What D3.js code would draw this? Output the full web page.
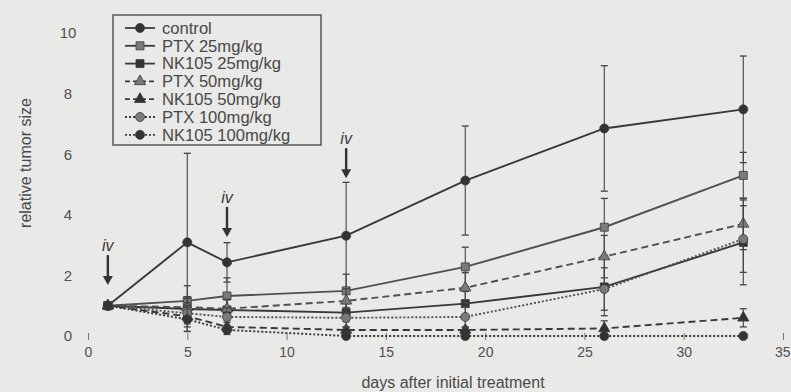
<!DOCTYPE html>
<html>
<head>
<meta charset="utf-8">
<script src="https://cdn.jsdelivr.net/npm/d3@7"></script>
<style>
  body { margin: 0; background: #e9e9e7; }
  svg { display: block; font-family: 'Liberation Sans', Arial, sans-serif; }
</style>
</head>
<body>
<div class="line-chart"></div>
<script>
// days when tumor size was measured
const days = [1, 5, 7, 13, 19, 26, 33];

const control = [1, 3.09, 2.43, 3.31, 5.13, 6.85, 7.48];
const control_err = [0, 2.94, 0.65, 1.76, 1.8, 2.07, 1.76];
const ptx25 = [1, 1.16, 1.32, 1.49, 2.28, 3.59, 5.3];
const ptx25_err = [0, 0.5, 0.6, 0.55, 0.65, 0.95, 0.76];
const nk25 = [1, 0.89, 0.86, 0.77, 1.07, 1.62, 3.09];
const nk25_err = [0, 0.35, 0.35, 0.3, 0.4, 0.95, 1.4];
const ptx50 = [1, 0.95, 0.9, 1.16, 1.59, 2.62, 3.7];
const ptx50_err = [0, 0.35, 0.3, 0.4, 0.5, 0.7, 0.85];
const nk50 = [1, 0.65, 0.3, 0.2, 0.2, 0.25, 0.6];
const nk50_err = [0, 0.35, 0.15, 0.1, 0.1, 0.25, 0.3];
const ptx100 = [1, 0.75, 0.63, 0.6, 0.63, 1.55, 3.2];
const ptx100_err = [0, 0.35, 0.3, 0.3, 0.35, 0.7, 1.1];
const nk100 = [1, 0.55, 0.2, 0, 0, 0, 0];
const nk100_err = [0, 0.4, 0.15, 0.05, 0.05, 0.05, 0.05];

const series_names = ['control', 'PTX 25mg/kg', 'NK105 25mg/kg', 'PTX 50mg/kg',
  'NK105 50mg/kg', 'PTX 100mg/kg', 'NK105 100mg/kg'];

const x_ticks = [0, 5, 10, 15, 20, 25, 30, 35];
const y_ticks = [0, 2, 4, 6, 8, 10];

// iv injections: day and the value the arrow points to
const iv_days = [1, 7, 13];
const iv_tips = [1.68, 3.27, 5.21];

class Chart {
  constructor() {
    this.w = 791;
    this.h = 392;
    this.ink = '#444';
    this.light = '#7a7a7a';
    this.dark = '#333';
    this.init();
  }

  init() {
    this.svg = d3.select('.line-chart').append('svg')
      .attr('width', this.w)
      .attr('height', this.h);

    this.x = d3.scaleLinear().domain([0, 35]).range([88, 783]);
    this.y = d3.scaleLinear().domain([0, 10]).range([336, 33]);

    this.series = [
      { name: series_names[0], values: control, err: control_err, dash: null, marker: 'circle', fill: this.dark },
      { name: series_names[1], values: ptx25, err: ptx25_err, dash: null, marker: 'square', fill: this.light },
      { name: series_names[2], values: nk25, err: nk25_err, dash: null, marker: 'square', fill: this.dark },
      { name: series_names[3], values: ptx50, err: ptx50_err, dash: '7,4', marker: 'triangle', fill: this.light },
      { name: series_names[4], values: nk50, err: nk50_err, dash: '7,4', marker: 'triangle', fill: this.dark },
      { name: series_names[5], values: ptx100, err: ptx100_err, dash: '2,2', marker: 'circle', fill: this.light },
      { name: series_names[6], values: nk100, err: nk100_err, dash: '2,2', marker: 'circle', fill: this.dark }
    ];
  }

  symbol(type) {
    const t = { circle: d3.symbolCircle, square: d3.symbolSquare, triangle: d3.symbolTriangle }[type];
    const size = { circle: 64, square: 64, triangle: 55 }[type];
    return d3.symbol().type(t).size(size)();
  }

  draw_axes() {
    const x_axis = d3.axisBottom(this.x).tickValues(x_ticks).tickSize(-7).tickPadding(7);
    const xg = this.svg.append('g')
      .attr('transform', `translate(0, ${this.y(0) + 4})`)
      .call(x_axis);
    xg.select('.domain').remove();
    xg.selectAll('line').attr('stroke', '#777');
    xg.selectAll('text').attr('fill', '#505050').attr('font-size', 14).attr('font-family', null);
    // last label sits on the right edge
    xg.selectAll('text').filter(d => d === 35).attr('text-anchor', 'end').attr('dx', '0.5em');

    const y_axis = d3.axisLeft(this.y).tickValues(y_ticks).tickSize(0).tickPadding(0);
    const yg = this.svg.append('g')
      .attr('transform', 'translate(68, 0)')
      .call(y_axis);
    yg.select('.domain').remove();
    yg.selectAll('text').attr('fill', '#505050').attr('font-size', 15)
      .attr('text-anchor', 'middle').attr('font-family', null);

    this.svg.append('text')
      .attr('x', 453).attr('y', 388)
      .attr('text-anchor', 'middle')
      .attr('font-size', 16).attr('fill', '#4a4a4a')
      .text('days after initial treatment');

    this.svg.append('text')
      .attr('transform', 'translate(31, 163) rotate(-90)')
      .attr('text-anchor', 'middle')
      .attr('font-size', 16).attr('fill', '#4a4a4a')
      .text('relative tumor size');
  }

  draw_series() {
    const line = d3.line()
      .x((d, i) => this.x(days[i]))
      .y(d => this.y(d));

    this.series.forEach(s => {
      const g = this.svg.append('g');

      // error bars
      days.forEach((day, i) => {
        if (!s.err[i]) return;
        const cx = this.x(day);
        const y1 = this.y(s.values[i] + s.err[i]);
        const y2 = this.y(Math.max(s.values[i] - s.err[i], -0.1));
        g.append('line').attr('x1', cx).attr('x2', cx).attr('y1', y1).attr('y2', y2)
          .attr('stroke', this.ink).attr('stroke-width', 1.1);
        [y1, y2].forEach(yy => {
          g.append('line').attr('x1', cx - 3.5).attr('x2', cx + 3.5).attr('y1', yy).attr('y2', yy)
            .attr('stroke', this.ink).attr('stroke-width', 1.3);
        });
      });

      g.append('path')
        .attr('d', line(s.values))
        .attr('fill', 'none')
        .attr('stroke', s.fill === this.light ? '#505050' : '#383838')
        .attr('stroke-width', 1.9)
        .attr('stroke-dasharray', s.dash);

      g.selectAll('.pt').data(s.values).enter()
        .append('path')
        .attr('d', this.symbol(s.marker))
        .attr('transform', (d, i) => `translate(${this.x(days[i])}, ${this.y(d)})`)
        .attr('fill', s.fill)
        .attr('stroke', '#3a3a3a')
        .attr('stroke-width', 0.8);
    });
  }

  draw_iv() {
    iv_days.forEach((day, i) => {
      const cx = this.x(day);
      const tip = this.y(iv_tips[i]);
      this.svg.append('line')
        .attr('x1', cx).attr('x2', cx)
        .attr('y1', tip - 30).attr('y2', tip - 6)
        .attr('stroke', '#333').attr('stroke-width', 2.4);
      this.svg.append('path')
        .attr('d', `M${cx - 5},${tip - 9}L${cx + 5},${tip - 9}L${cx},${tip}Z`)
        .attr('fill', '#333');
      this.svg.append('text')
        .attr('x', cx).attr('y', tip - 34)
        .attr('text-anchor', 'middle')
        .attr('font-size', 16).attr('font-style', 'italic')
        .attr('fill', '#3a3a3a')
        .text('iv');
    });
  }

  draw_legend() {
    const lg = this.svg.append('g');
    lg.append('rect')
      .attr('x', 113).attr('y', 15)
      .attr('width', 208).attr('height', 130)
      .attr('fill', 'none')
      .attr('stroke', '#555').attr('stroke-width', 1.5);

    this.series.forEach((s, i) => {
      const yy = 28 + i * 17.8;
      lg.append('line')
        .attr('x1', 125).attr('x2', 155).attr('y1', yy).attr('y2', yy)
        .attr('stroke', '#3c3c3c').attr('stroke-width', 1.8)
        .attr('stroke-dasharray', s.dash ? (s.dash === '2,2' ? '2,2' : '5,3') : null);
      lg.append('path')
        .attr('d', this.symbol(s.marker))
        .attr('transform', `translate(140, ${yy})`)
        .attr('fill', s.fill).attr('stroke', '#3a3a3a').attr('stroke-width', 0.8);
      lg.append('text')
        .attr('x', 162).attr('y', yy)
        .attr('dy', '0.35em')
        .attr('font-size', 16.6).attr('fill', '#484848')
        .text(s.name);
    });
  }

  render() {
    this.draw_axes();
    this.draw_series();
    this.draw_iv();
    this.draw_legend();
  }
}

const chart = new Chart();
chart.render();
</script>
</body>
</html>
